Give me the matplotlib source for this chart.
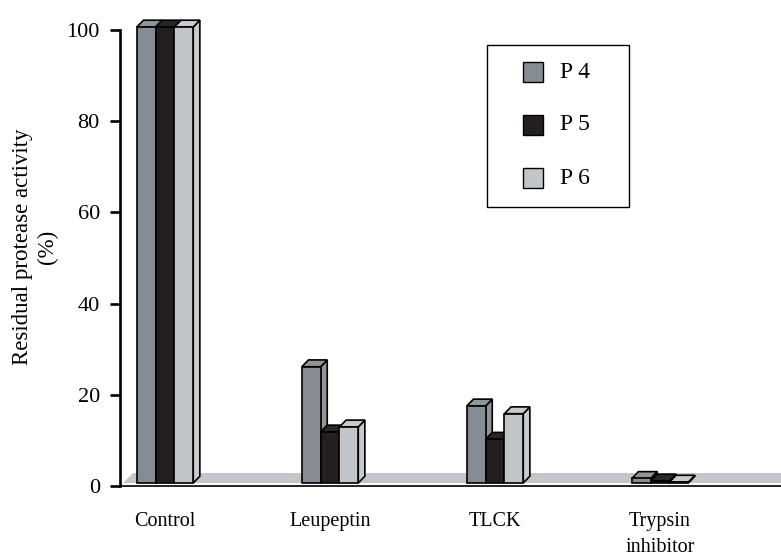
import matplotlib
matplotlib.use("Agg")
import matplotlib.pyplot as plt
from matplotlib.patches import Polygon, Rectangle

plt.rcParams['font.family'] = ['Liberation Serif', 'DejaVu Serif']

categories = ['Control', 'Leupeptin', 'TLCK', 'Trypsin\ninhibitor']
series_names = ['P 4', 'P 5', 'P 6']
p4 = [100, 25.5, 16.9, 1.0]
p5 = [100, 11.2, 9.6, 0.45]
p6 = [100, 12.3, 15.2, 0.2]
colors = ['#868c93', '#231f20', '#c1c4c8']
side_colors = ['#8f959b', '#2a2627', '#c8cbce']

bar_w = 0.114
depth_x, depth_y = 0.040, 1.5      # oblique offset of the bar tops/sides
base = 0.65                          # bars stand on the front edge of the floor
floor_dx, floor_dy = 0.062, 2.2

W, H = 781, 556
fig = plt.figure(figsize=(W / 100, H / 100), dpi=100)
ax = fig.add_axes([120 / W, 1 - 486 / H, 661 / W, 456 / H])
ax.set_xlim(-0.273, 3.733)
ax.set_ylim(0, 100)

# grey floor
ax.add_patch(Polygon([(-0.255, base), (4.0, base), (4.0, base + floor_dy),
                      (-0.255 + floor_dx, base + floor_dy)],
                     closed=True, facecolor='#c3c6ca', edgecolor='none', zorder=1))

z = 2
for i, cat in enumerate(categories):
    for j, vals in enumerate([p4, p5, p6]):
        v = vals[i]
        x0 = i + (j - 1.5) * bar_w
        x1 = x0 + bar_w
        top = base + v
        side = Polygon([(x1, base), (x1 + depth_x, base + depth_y),
                        (x1 + depth_x, top + depth_y), (x1, top)],
                       closed=True, facecolor=side_colors[j], edgecolor='black',
                       linewidth=1.2, zorder=z, clip_on=False)
        lid = Polygon([(x0, top), (x1, top), (x1 + depth_x, top + depth_y),
                       (x0 + depth_x, top + depth_y)],
                      closed=True, facecolor=side_colors[j], edgecolor='black',
                      linewidth=1.2, zorder=z, clip_on=False)
        ax.add_patch(side)
        ax.add_patch(lid)
        ax.bar(x0, v, width=bar_w, bottom=base, align='edge', color=colors[j],
               edgecolor='black', linewidth=1.2, zorder=z + 0.5, clip_on=False)
        z += 1

ax.spines['top'].set_visible(False)
ax.spines['right'].set_visible(False)
ax.spines['left'].set_linewidth(1.9)
ax.spines['bottom'].set_linewidth(1.2)
ax.spines['left'].set_bounds(0, 100)

ax.set_yticks([0, 20, 40, 60, 80, 100])
ax.tick_params(axis='y', length=7.5, width=1.9, labelsize=16, pad=7)
ax.set_xticks(range(len(categories)))
ax.set_xticklabels(categories, fontsize=14.5, linespacing=1.45)
ax.tick_params(axis='x', length=0, pad=19)

fig.text(35 / W, 1 - 247 / H, 'Residual protease activity\n(%)', fontsize=16.5,
         rotation=90, ha='center', va='center', multialignment='center',
         linespacing=1.2)

# legend box
fig.patches.append(Rectangle((487 / W, 1 - 207 / H), 142 / W, 162 / H,
                             transform=fig.transFigure, fill=False,
                             edgecolor='black', linewidth=1.0))
for k, name in enumerate(series_names):
    yc = 72 + 53 * k
    fig.patches.append(Rectangle((523 / W, 1 - (yc + 10) / H), 20 / W, 20 / H,
                                 transform=fig.transFigure, facecolor=colors[k],
                                 edgecolor='black', linewidth=1.0))
    fig.text(560 / W, 1 - yc / H, name, fontsize=17, ha='left', va='center')

fig.savefig('out.png', dpi=100)
